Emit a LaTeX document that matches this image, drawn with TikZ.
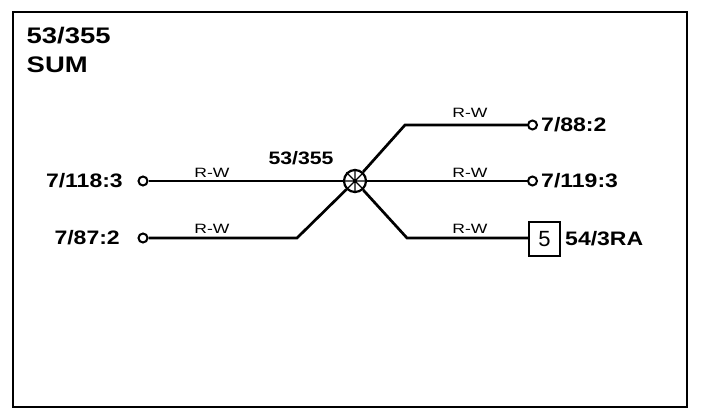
\documentclass[tikz,border=0pt]{standalone}
\usepackage{fontspec}
\setmainfont{Liberation Sans}
\newcommand\widetxt[1]{\scalebox{1.18}[1]{#1}}
\newcommand\titlewide[1]{\scalebox{1.22}[1]{#1}}
\newcommand\rwtxt[1]{\scalebox{1.3}[1]{#1}}
\begin{document}
\begin{tikzpicture}[x=1pt,y=-1pt,
  wire/.style={line width=2.7pt},
  term/.style={circle,draw,line width=2pt,inner sep=0pt,minimum size=9pt},
  titletxt/.style={inner sep=0pt,font=\bfseries\fontsize{22.5}{22.5}\selectfont},
  lbl/.style={inner sep=0pt,font=\bfseries\fontsize{19.5}{19.5}\selectfont},
  splbl/.style={inner sep=0pt,font=\bfseries\fontsize{18}{18}\selectfont},
  rw/.style={inner sep=0pt,font=\fontsize{13.5}{13.5}\selectfont},
  splice/.style={circle,draw,line width=2.2pt,minimum size=22pt,inner sep=0pt},
  pinbox/.style={rectangle,draw,line width=2pt,minimum width=31pt,minimum height=33pt,inner sep=0pt,font=\fontsize{22}{22}\selectfont}]
\useasboundingbox (0,0) rectangle (704,414);
\draw[line width=2.6pt] (13,12) rectangle (687,407);
\node[titletxt,anchor=base west] (t1) at (26.5,44) {\titlewide{53/355}};
\node[titletxt,anchor=base west] (t2) at (26.5,72.5) {\titlewide{SUM}};
% terminals
\node[term] (l1) at (143,181) {};
\node[term] (l2) at (143,238) {};
\node[lbl,anchor=east] (l1t) at (123,181) {\widetxt{7/118:3}};
\node[lbl,anchor=east] (l2t) at (120,238) {\widetxt{7/87:2}};
\node[term] (r1) at (532.5,125) {};
\node[term] (r2) at (532.5,181) {};
\node[pinbox] (bx) at (544.5,239) {5};
\node[lbl,anchor=west] (r1t) at (541,125) {\widetxt{7/88:2}};
\node[lbl,anchor=west] (r2t) at (541,181) {\widetxt{7/119:3}};
\node[lbl,anchor=west] (bxt) at (565,239) {\widetxt{54/3RA}};
% splice
\node[splice] (sp) at (355,181) {};
\node[splbl] (spl) at (301,158.5) {\widetxt{53/355}};
\coordinate (b1) at (297,238);
\coordinate (u1) at (405,125);
\coordinate (d1) at (407,238);
% wires
\draw[wire] (l1) -- (sp);
\draw[wire] (l2) -- (b1) -- (sp);
\draw[wire] (sp) -- (u1) -- (r1);
\draw[wire] (sp) -- (r2);
\draw[wire] (sp) -- (d1) -- (bx.west |- d1);
\draw[line width=1.4pt] (sp.north) -- (sp.south) (sp.east) -- (sp.west)
  (sp.north east) -- (sp.south west) (sp.north west) -- (sp.south east);
% wire labels
\node[rw] (w1) at (212,172.5) {\rwtxt{R-W}};
\node[rw] (w2) at (212,229) {\rwtxt{R-W}};
\node[rw] (w3) at (470,112.5) {\rwtxt{R-W}};
\node[rw] (w4) at (470,172.5) {\rwtxt{R-W}};
\node[rw] (w5) at (470,228.5) {\rwtxt{R-W}};
\end{tikzpicture}
\end{document}
